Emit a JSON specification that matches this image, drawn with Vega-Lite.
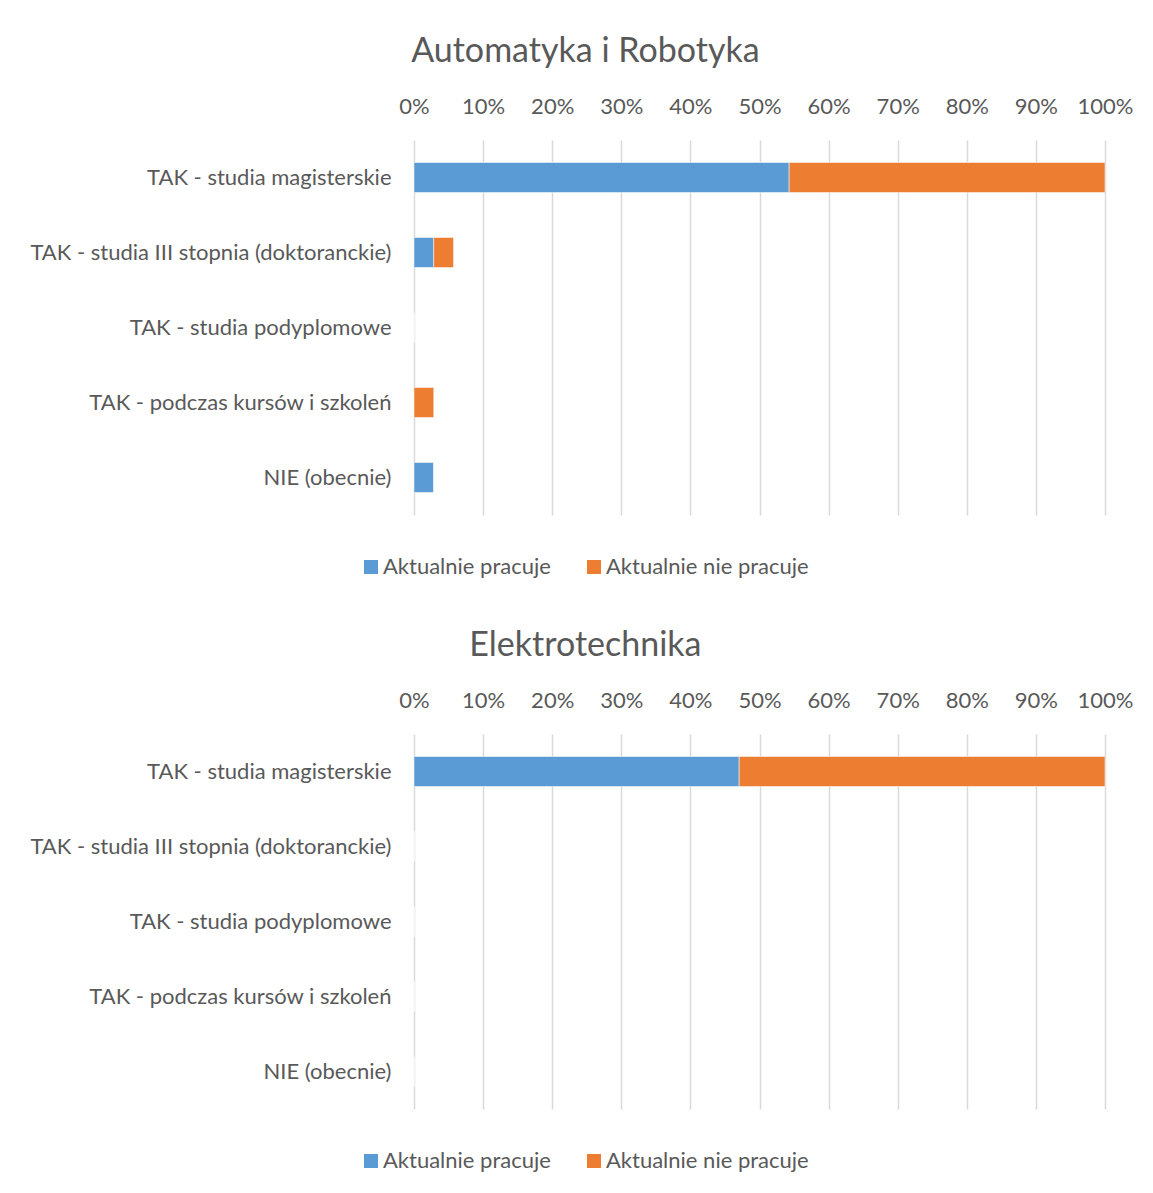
{
  "$schema": "https://vega.github.io/schema/vega-lite/v6.json",
  "padding": {"left": 29, "top": 35, "right": 10, "bottom": 5},
  "background": "white",
  "data": {"values": [
    {"panel": "Automatyka i Robotyka", "category": "TAK - studia magisterskie", "series": "Aktualnie pracuje", "value": 0.5429},
    {"panel": "Automatyka i Robotyka", "category": "TAK - studia magisterskie", "series": "Aktualnie nie pracuje", "value": 0.4571},
    {"panel": "Automatyka i Robotyka", "category": "TAK - studia III stopnia (doktoranckie)", "series": "Aktualnie pracuje", "value": 0.0286},
    {"panel": "Automatyka i Robotyka", "category": "TAK - studia III stopnia (doktoranckie)", "series": "Aktualnie nie pracuje", "value": 0.0286},
    {"panel": "Automatyka i Robotyka", "category": "TAK - studia podyplomowe", "series": "Aktualnie pracuje", "value": 0},
    {"panel": "Automatyka i Robotyka", "category": "TAK - studia podyplomowe", "series": "Aktualnie nie pracuje", "value": 0},
    {"panel": "Automatyka i Robotyka", "category": "TAK - podczas kursów i szkoleń", "series": "Aktualnie pracuje", "value": 0},
    {"panel": "Automatyka i Robotyka", "category": "TAK - podczas kursów i szkoleń", "series": "Aktualnie nie pracuje", "value": 0.0286},
    {"panel": "Automatyka i Robotyka", "category": "NIE (obecnie)", "series": "Aktualnie pracuje", "value": 0.0286},
    {"panel": "Automatyka i Robotyka", "category": "NIE (obecnie)", "series": "Aktualnie nie pracuje", "value": 0},
    {"panel": "Elektrotechnika", "category": "TAK - studia magisterskie", "series": "Aktualnie pracuje", "value": 0.4706},
    {"panel": "Elektrotechnika", "category": "TAK - studia magisterskie", "series": "Aktualnie nie pracuje", "value": 0.5294},
    {"panel": "Elektrotechnika", "category": "TAK - studia III stopnia (doktoranckie)", "series": "Aktualnie pracuje", "value": 0},
    {"panel": "Elektrotechnika", "category": "TAK - studia III stopnia (doktoranckie)", "series": "Aktualnie nie pracuje", "value": 0},
    {"panel": "Elektrotechnika", "category": "TAK - studia podyplomowe", "series": "Aktualnie pracuje", "value": 0},
    {"panel": "Elektrotechnika", "category": "TAK - studia podyplomowe", "series": "Aktualnie nie pracuje", "value": 0},
    {"panel": "Elektrotechnika", "category": "TAK - podczas kursów i szkoleń", "series": "Aktualnie pracuje", "value": 0},
    {"panel": "Elektrotechnika", "category": "TAK - podczas kursów i szkoleń", "series": "Aktualnie nie pracuje", "value": 0},
    {"panel": "Elektrotechnika", "category": "NIE (obecnie)", "series": "Aktualnie pracuje", "value": 0},
    {"panel": "Elektrotechnika", "category": "NIE (obecnie)", "series": "Aktualnie nie pracuje", "value": 0}
  ]},
  "config": {
    "font": "Lato",
    "view": {"stroke": null},
    "concat": {"spacing": 51},
    "title": {"fontSize": 34, "fontWeight": "normal", "color": "#595959", "anchor": "middle", "frame": "bounds", "offset": 26, "dx": 4},
    "axis": {"labelColor": "#595959", "labelFontSize": 22, "labelLimit": 0, "labelOverlap": false, "labelFlush": false, "domain": false, "ticks": false, "title": null},
    "legend": {"labelColor": "#595959", "labelFontSize": 22, "labelLimit": 0, "symbolType": "square", "symbolSize": 196, "symbolStrokeWidth": 0, "labelOffset": 1, "columnPadding": 32, "orient": "none", "direction": "horizontal", "title": null}
  },
  "resolve": {"legend": {"color": "independent"}},
  "vconcat": [
    {
      "title": "Automatyka i Robotyka",
      "width": 691, "height": 375,
      "transform": [{"filter": "datum.panel === 'Automatyka i Robotyka'"}],
      "mark": {"type": "bar", "stroke": "white", "strokeWidth": 0.5},
      "encoding": {
        "y": {"field": "category", "type": "nominal", "sort": ["TAK - studia magisterskie", "TAK - studia III stopnia (doktoranckie)", "TAK - studia podyplomowe", "TAK - podczas kursów i szkoleń", "NIE (obecnie)"], "scale": {"paddingInner": 0.6, "paddingOuter": 0.3}, "axis": {"labelPadding": 23}},
        "x": {"field": "value", "type": "quantitative", "stack": "zero", "scale": {"domain": [0, 1]}, "axis": {"orient": "top", "format": ".0%", "values": [0, 0.1, 0.2, 0.3, 0.4, 0.5, 0.6, 0.7, 0.8, 0.9, 1], "gridColor": "#d9d9d9", "gridWidth": 1.5, "labelPadding": 22}},
        "color": {"field": "series", "type": "nominal", "scale": {"domain": ["Aktualnie pracuje", "Aktualnie nie pracuje"], "range": ["#5b9bd5", "#ed7d31"]}, "legend": {"legendX": -54, "legendY": 416}},
        "order": {"field": "series", "sort": "descending"}
      }
    },
    {
      "title": "Elektrotechnika",
      "width": 691, "height": 375,
      "transform": [{"filter": "datum.panel === 'Elektrotechnika'"}],
      "mark": {"type": "bar", "stroke": "white", "strokeWidth": 0.5},
      "encoding": {
        "y": {"field": "category", "type": "nominal", "sort": ["TAK - studia magisterskie", "TAK - studia III stopnia (doktoranckie)", "TAK - studia podyplomowe", "TAK - podczas kursów i szkoleń", "NIE (obecnie)"], "scale": {"paddingInner": 0.6, "paddingOuter": 0.3}, "axis": {"labelPadding": 23}},
        "x": {"field": "value", "type": "quantitative", "stack": "zero", "scale": {"domain": [0, 1]}, "axis": {"orient": "top", "format": ".0%", "values": [0, 0.1, 0.2, 0.3, 0.4, 0.5, 0.6, 0.7, 0.8, 0.9, 1], "gridColor": "#d9d9d9", "gridWidth": 1.5, "labelPadding": 22}},
        "color": {"field": "series", "type": "nominal", "scale": {"domain": ["Aktualnie pracuje", "Aktualnie nie pracuje"], "range": ["#5b9bd5", "#ed7d31"]}, "legend": {"legendX": -54, "legendY": 416}},
        "order": {"field": "series", "sort": "descending"}
      }
    }
  ]
}
